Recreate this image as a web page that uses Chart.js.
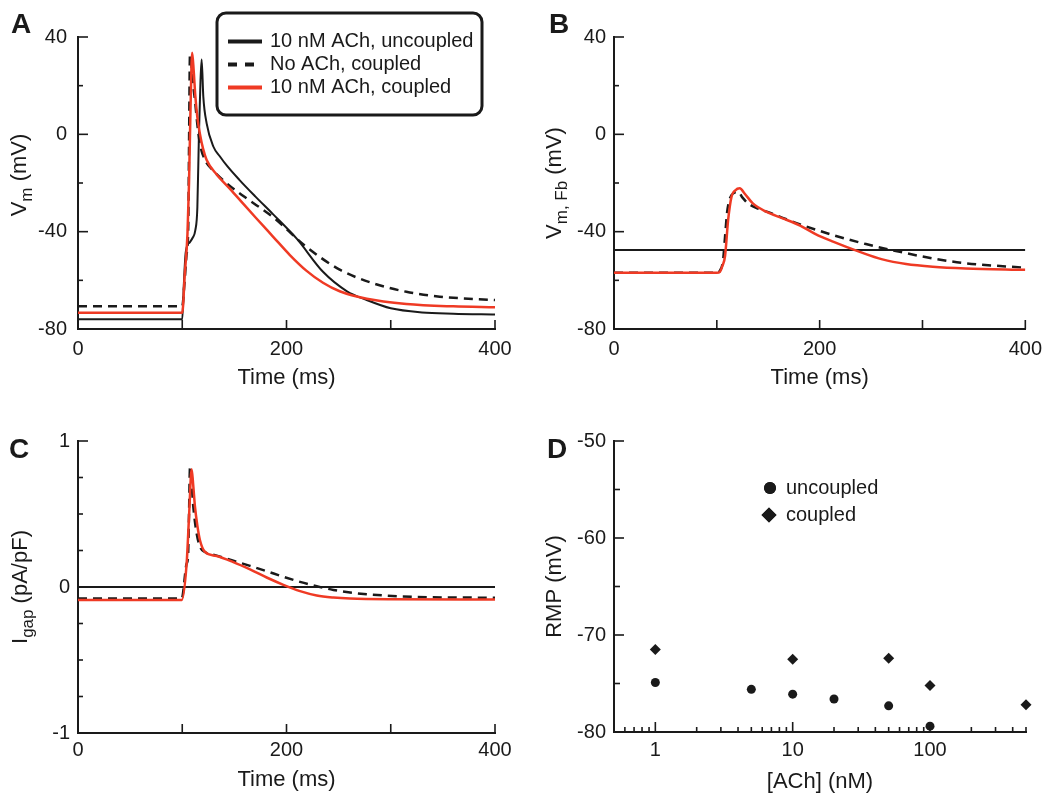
<!DOCTYPE html>
<html>
<head>
<meta charset="utf-8">
<script src="https://cdn.jsdelivr.net/npm/chart.js@4.4.1/dist/chart.umd.min.js"></script>
<style>
  html, body { margin: 0; padding: 0; background: #fff; }
  #wrap { position: relative; width: 1050px; height: 801px; overflow: hidden; }
  canvas { position: absolute; }
</style>
</head>
<body>
<div id="wrap">
  <canvas id="cA" width="525" height="400" style="left:0;top:0;width:525px;height:400px"></canvas>
  <canvas id="cB" width="525" height="400" style="left:525px;top:0;width:525px;height:400px"></canvas>
  <canvas id="cC" width="525" height="401" style="left:0;top:400px;width:525px;height:401px"></canvas>
  <canvas id="cD" width="525" height="401" style="left:525px;top:400px;width:525px;height:401px"></canvas>
</div>
<script>
const RED = 'rgb(239,58,36)';
const INK = '#1a1a1a';
Chart.defaults.font.family = '"Liberation Sans", Arial, Helvetica, sans-serif';
Chart.defaults.color = INK;

// --- panel A: myocyte Vm (mV) vs time (ms)
const aUncT = [0, 100, 101.5, 103, 105, 107, 110, 112.5, 114.5, 116, 117.5, 118.6, 120.2, 123.4, 129.8, 136, 143, 155, 170, 187, 210, 235, 258, 277, 300, 330, 360, 400];
const aUncV = [-76, -76, -62, -50, -45.5, -44.5, -42.5, -39.5, -30, 0, 22, 30.8, 15.5, 4.5, -5, -9, -13, -18.8, -25.5, -32.8, -43, -56.5, -64.5, -68.1, -71.5, -73.2, -73.7, -74];
const aNoT = [0, 100, 102, 104, 105.8, 106.6, 107.4, 108.5, 110, 112.2, 114.5, 117, 121.8, 130, 142.6, 160, 187, 219, 251, 283, 315, 347, 400];
const aNoV = [-70.6, -70.6, -62, -50, -37, 0, 32.6, 30, 22, 14, 4, -4, -10.5, -15, -20.1, -25.8, -34, -46.2, -55.6, -61.2, -64.7, -66.7, -68.1];
const aCplT = [0, 100, 102.5, 105, 106.5, 108, 109.5, 111, 112.5, 114.5, 117, 120, 123.4, 133, 146, 158, 171, 187, 203, 219, 235, 251, 277, 315, 360, 400];
const aCplV = [-73.3, -73.3, -57, -41, -20, 12, 33.5, 26, 16, 7, 0, -6, -10.5, -16.5, -22.5, -28.3, -34.5, -42, -49.5, -56, -61, -64.5, -67.6, -69.7, -70.7, -71.1];

// --- panel B: fibroblast Vm (mV)
const bUncT = [0, 400];
const bUncV = [-47.5, -47.5];
const bNoT = [0, 100, 103, 106, 108, 110, 113, 117, 120.7, 125, 130.4, 140, 150, 164, 181, 213, 245, 278, 310, 342, 400];
const bNoV = [-56.9, -56.9, -56, -52, -42, -32, -26, -24, -23.6, -26, -28.4, -30.5, -32, -34.3, -37, -41.4, -45.1, -48.3, -51, -53, -54.8];
const bCplT = [0, 100, 103, 105.5, 108, 111, 114.3, 118, 122.3, 127, 135, 148, 164, 181, 196, 213, 239, 261, 284, 310, 342, 400];
const bCplV = [-56.9, -56.9, -56.5, -54, -50, -35.2, -25.6, -23, -22.2, -24.3, -28.4, -31.8, -34.5, -37.5, -41, -44.1, -48.3, -51.4, -53.3, -54.4, -55.1, -55.7];

// --- panel C: gap junction current (pA/pF)
const cUncT = [0, 400];
const cUncI = [0, 0];
const cNoT = [0, 99.5, 104.2, 105.5, 106.5, 107.4, 108.5, 110.6, 113.5, 117, 121.8, 133, 149, 165, 181, 197, 213, 229, 245, 261, 293, 325, 400];
const cNoI = [-0.078, -0.078, 0.16, 0.2, 0.5, 0.813, 0.75, 0.55, 0.38, 0.276, 0.24, 0.215, 0.18, 0.145, 0.108, 0.07, 0.035, 0.005, -0.02, -0.038, -0.058, -0.068, -0.074];
const cCplT = [0, 99.5, 104.2, 106.5, 109, 110.5, 112.2, 114.5, 117, 121.8, 133, 149, 165, 181, 197, 213, 229, 245, 261, 300, 400];
const cCplI = [-0.089, -0.089, 0.16, 0.48, 0.806, 0.7, 0.55, 0.42, 0.32, 0.24, 0.212, 0.17, 0.12, 0.065, 0.015, -0.028, -0.058, -0.072, -0.079, -0.084, -0.086];

// --- panel D: resting potential vs [ACh]
const dUncAch = [1, 5, 10, 20, 50, 100];
const dUncRmp = [-74.9, -75.6, -76.1, -76.6, -77.3, -79.4];
const dCplAch = [1, 10, 50, 100, 500];
const dCplRmp = [-71.5, -72.5, -72.4, -75.2, -77.2];

// --- ticks
const timeTicks = [0, 100, 200, 300, 400];
const timeLabels = [0, 200, 400];
const vTicks = [-80, -60, -40, -20, 0, 20, 40];
const vLabels = [-80, -40, 0, 40];
const iTicks = [-1, -0.75, -0.5, -0.25, 0, 0.25, 0.5, 0.75, 1];
const iLabels = [-1, 0, 1];
const rmpTicks = [-80, -75, -70, -65, -60, -55, -50];
const rmpLabels = [-80, -70, -60, -50];
const achTicks = [0.6, 0.7, 0.8, 0.9, 1, 2, 3, 4, 5, 6, 7, 8, 9, 10, 20, 30, 40, 50, 60, 70, 80, 90, 100, 200, 300, 400, 500];
const achLabels = [1, 10, 100];

const pts = (xs, ys) => xs.map((x, i) => ({x: x, y: ys[i]}));

function trace(label, xs, ys, kind) {
  const st = {
    unc: {borderColor: INK, borderWidth: 2, borderDash: [], order: 3},
    no: {borderColor: INK, borderWidth: 2.5, borderDash: [9, 6], order: 2},
    cpl: {borderColor: RED, borderWidth: 2.5, borderDash: [], order: 1}
  }[kind];
  return Object.assign({
    label: label,
    data: pts(xs, ys),
    pointRadius: 0,
    fill: false,
    tension: 0,
    cubicInterpolationMode: 'monotone'
  }, st);
}

function isIn(list, v) {
  return list.some(l => Math.abs(l - v) < 1e-9);
}

function axis(type, pos, min, max, tickVals, labelVals, fit, tickPad, title, titlePad) {
  return {
    type: type, position: pos, min: min, max: max,
    grid: {display: false, drawTicks: false},
    border: {display: true, color: INK, width: 2},
    afterBuildTicks: s => { s.ticks = tickVals.map(v => ({value: v})); },
    ticks: {
      autoSkip: false, maxRotation: 0, padding: tickPad,
      font: {size: 20},
      callback: v => isIn(labelVals, v) ? String(v) : ''
    },
    title: title ? {display: true, text: title, font: {size: 22}, padding: {top: 0, bottom: titlePad}} : {display: false},
    afterFit: s => { if (pos === 'bottom') s.height = fit; else s.width = fit; }
  };
}

// inward tick marks, long for labelled ticks
const inTicks = {
  id: 'inTicks',
  afterDraw(chart, args, o) {
    const ctx = chart.ctx;
    ctx.save();
    ctx.strokeStyle = INK;
    ctx.lineWidth = 1.6;
    ['x', 'y'].forEach(id => {
      const s = chart.scales[id];
      const lens = o[id];
      s.ticks.forEach(t => {
        const p = s.getPixelForValue(t.value);
        const len = t.label === '' ? lens[1] : lens[0];
        ctx.beginPath();
        if (id === 'x') { ctx.moveTo(p, s.top); ctx.lineTo(p, s.top - len); }
        else { ctx.moveTo(s.right, p); ctx.lineTo(s.right + len, p); }
        ctx.stroke();
      });
    });
    ctx.restore();
  }
};

// rotated y title with subscripts, plus the panel letter
const yTitle = {
  id: 'yTitle',
  afterDraw(chart, args, o) {
    const {ctx, chartArea} = chart;
    ctx.save();
    ctx.fillStyle = INK;
    ctx.textBaseline = 'middle';
    ctx.textAlign = 'center';
    ctx.font = 'bold 28px "Liberation Sans", Arial, sans-serif';
    ctx.fillText(o.letter[0], o.letter[1], o.letter[2]);

    const cy = (chartArea.top + chartArea.bottom) / 2 + (o.dy || 0);
    ctx.translate(o.x, cy);
    ctx.rotate(-Math.PI / 2);
    ctx.textAlign = 'left';
    let w = 0;
    const parts = o.parts.map(p => {
      ctx.font = (p[1] ? 17 : 22) + 'px "Liberation Sans", Arial, sans-serif';
      const pw = ctx.measureText(p[0]).width;
      w += pw;
      return [p[0], p[1], pw];
    });
    let x = -w / 2;
    parts.forEach(p => {
      ctx.font = (p[1] ? 17 : 22) + 'px "Liberation Sans", Arial, sans-serif';
      ctx.fillText(p[0], x, p[1] ? 7 : 0);
      x += p[2];
    });
    ctx.restore();
  }
};

// boxed line legend for panel A
const boxLegend = {
  id: 'boxLegend',
  afterDraw(chart, args, o) {
    if (!o.box) return;
    const ctx = chart.ctx;
    const [x0, y0, w, h] = o.box;
    const r = 9;
    ctx.save();
    ctx.lineWidth = 3;
    ctx.strokeStyle = INK;
    ctx.beginPath();
    ctx.moveTo(x0 + r, y0);
    ctx.arcTo(x0 + w, y0, x0 + w, y0 + h, r);
    ctx.arcTo(x0 + w, y0 + h, x0, y0 + h, r);
    ctx.arcTo(x0, y0 + h, x0, y0, r);
    ctx.arcTo(x0, y0, x0 + w, y0, r);
    ctx.closePath();
    ctx.stroke();
    ctx.font = '20px "Liberation Sans", Arial, sans-serif';
    ctx.textBaseline = 'middle';
    ctx.fillStyle = INK;
    chart.data.datasets.forEach((d, k) => {
      const y = o.rowY + k * o.gap;
      ctx.beginPath();
      ctx.strokeStyle = d.borderColor;
      ctx.lineWidth = 4;
      ctx.setLineDash(d.borderDash.length ? [9, 8] : []);
      ctx.moveTo(o.lineX, y);
      ctx.lineTo(o.lineX + 34, y);
      ctx.stroke();
      ctx.fillText(d.label, o.textX, y);
    });
    ctx.restore();
  }
};

// marker legend for panel D
const markLegend = {
  id: 'markLegend',
  afterDraw(chart, args, o) {
    if (!o.rows) return;
    const ctx = chart.ctx;
    ctx.save();
    ctx.font = '20px "Liberation Sans", Arial, sans-serif';
    ctx.textBaseline = 'middle';
    ctx.fillStyle = INK;
    chart.data.datasets.forEach((d, k) => {
      const [mx, my, mr] = o.rows[k];
      Chart.helpers.drawPoint(ctx, {pointStyle: d.pointStyle, radius: mr, borderWidth: 0}, mx, my);
      ctx.fillStyle = INK;
      ctx.fill();
      ctx.fillText(d.label, o.textX, my);
    });
    ctx.restore();
  }
};

function tracePanel(id, sets, yAx, pad, title, letter) {
  return new Chart(document.getElementById(id), {
    type: 'line',
    data: {datasets: sets},
    options: {
      responsive: false, animation: false, devicePixelRatio: 1,
      layout: {padding: pad.layout},
      scales: {
        x: axis('linear', 'bottom', 0, 400, timeTicks, timeLabels, pad.xh, pad.xtp, 'Time (ms)', pad.xtitle),
        y: yAx
      },
      plugins: {
        legend: {display: false}, tooltip: {enabled: false},
        inTicks: {x: [9, 9], y: [10, 5]},
        yTitle: Object.assign({letter: letter}, title),
        boxLegend: pad.legend || {}
      }
    },
    plugins: [inTicks, yTitle, boxLegend]
  });
}

tracePanel('cA', [
  trace('10 nM ACh, uncoupled', aUncT, aUncV, 'unc'),
  trace('No ACh, coupled', aNoT, aNoV, 'no'),
  trace('10 nM ACh, coupled', aCplT, aCplV, 'cpl')
], axis('linear', 'left', -80, 40, vTicks, vLabels, 78, 11),
  {layout: {left: 0, right: 30, top: 37, bottom: 0}, xh: 71, xtp: 8, xtitle: 9,
   legend: {box: [217, 13, 265, 102], rowY: 41.5, gap: 23, lineX: 228, textX: 270}},
  {x: 20, dy: -8, parts: [['V', 0], ['m', 1], [' (mV)', 0]]}, ['A', 21, 25]);

tracePanel('cB', [
  trace('uncoupled', bUncT, bUncV, 'unc'),
  trace('No ACh, coupled', bNoT, bNoV, 'no'),
  trace('10 nM ACh, coupled', bCplT, bCplV, 'cpl')
], axis('linear', 'left', -80, 40, vTicks, vLabels, 89, 8),
  {layout: {left: 0, right: 24, top: 37, bottom: 0}, xh: 71, xtp: 8, xtitle: 9},
  {x: 30, parts: [['V', 0], ['m, Fb', 1], [' (mV)', 0]]}, ['B', 34, 25]);

tracePanel('cC', [
  trace('uncoupled', cUncT, cUncI, 'unc'),
  trace('No ACh, coupled', cNoT, cNoI, 'no'),
  trace('10 nM ACh, coupled', cCplT, cCplI, 'cpl')
], axis('linear', 'left', -1, 1, iTicks, iLabels, 78, 8),
  {layout: {left: 0, right: 30, top: 41, bottom: 0}, xh: 68, xtp: 5, xtitle: 8},
  {x: 21, parts: [['I', 0], ['gap', 1], [' (pA/pF)', 0]]}, ['C', 19, 50]);

new Chart(document.getElementById('cD'), {
  type: 'scatter',
  data: {datasets: [
    {label: 'uncoupled', data: pts(dUncAch, dUncRmp), pointStyle: 'circle', pointRadius: 4.5,
     backgroundColor: INK, borderColor: INK, borderWidth: 0, clip: 12},
    {label: 'coupled', data: pts(dCplAch, dCplRmp), pointStyle: 'rectRot', pointRadius: 5.5,
     backgroundColor: INK, borderColor: INK, borderWidth: 0, clip: 12}
  ]},
  options: {
    responsive: false, animation: false, devicePixelRatio: 1,
    layout: {padding: {left: 0, right: 24, top: 41, bottom: 0}},
    scales: {
      x: axis('logarithmic', 'bottom', 0.5, 500, achTicks, achLabels, 69, 6, '[ACh] (nM)', 6),
      y: axis('linear', 'left', -80, -50, rmpTicks, rmpLabels, 89, 8)
    },
    plugins: {
      legend: {display: false}, tooltip: {enabled: false},
      inTicks: {x: [10, 5], y: [10, 6]},
      yTitle: {x: 30, parts: [['RMP (mV)', 0]], letter: ['D', 32, 50]},
      markLegend: {rows: [[245, 88, 6], [244, 115, 7.5]], textX: 261}
    }
  },
  plugins: [inTicks, yTitle, markLegend]
});
</script>
</body>
</html>
